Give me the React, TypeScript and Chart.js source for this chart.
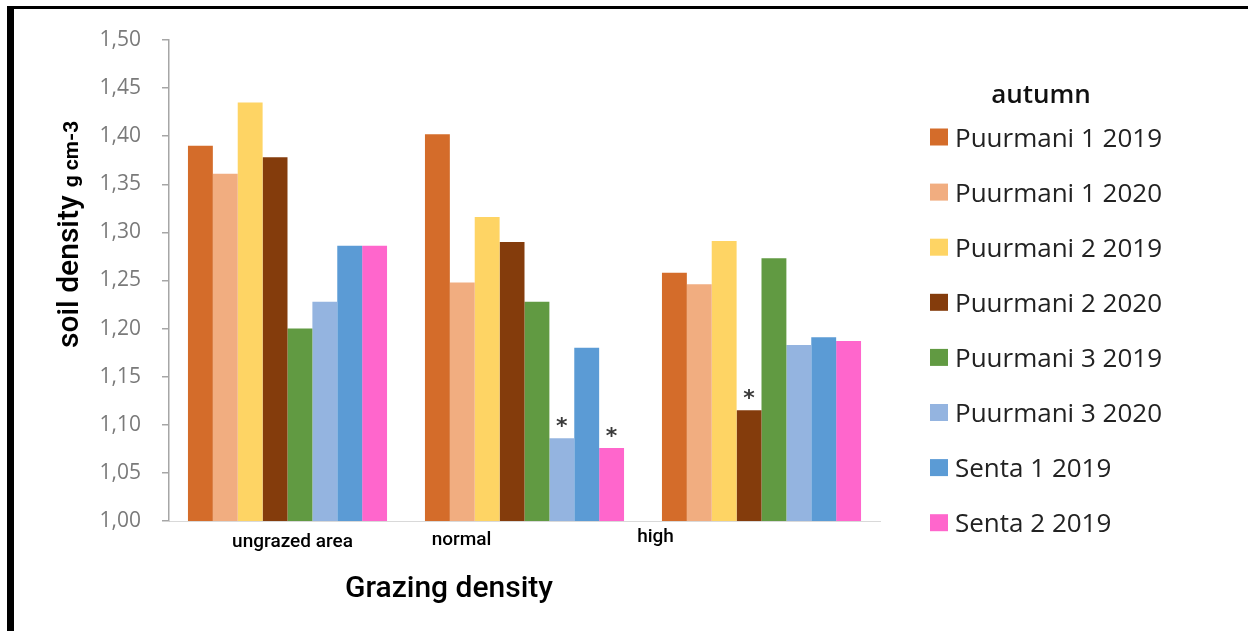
import { useEffect, useRef } from 'react';
import { Chart, registerables } from 'chart.js';

Chart.register(...registerables);

// ---------- data ----------
const categories = ['ungrazed area', 'normal', 'high'];
const seriesLabels = [
  'Puurmani 1 2019',
  'Puurmani 1 2020',
  'Puurmani 2 2019',
  'Puurmani 2 2020',
  'Puurmani 3 2019',
  'Puurmani 3 2020',
  'Senta 1 2019',
  'Senta 2 2019',
];
const puurmani1_2019 = [1.39, 1.402, 1.258];
const puurmani1_2020 = [1.361, 1.248, 1.246];
const puurmani2_2019 = [1.435, 1.316, 1.291];
const puurmani2_2020 = [1.378, 1.29, 1.115];
const puurmani3_2019 = [1.2, 1.228, 1.273];
const puurmani3_2020 = [1.228, 1.086, 1.183];
const senta1_2019 = [1.286, 1.18, 1.191];
const senta2_2019 = [1.286, 1.076, 1.187];
const seriesValues = [
  puurmani1_2019,
  puurmani1_2020,
  puurmani2_2019,
  puurmani2_2020,
  puurmani3_2019,
  puurmani3_2020,
  senta1_2019,
  senta2_2019,
];
const yTickValues = [1.0, 1.05, 1.1, 1.15, 1.2, 1.25, 1.3, 1.35, 1.4, 1.45, 1.5];
// significance marks: which series / category carries an asterisk
const starSeries = [5, 7, 3];
const starCategory = [1, 1, 2];

const legendTitle = 'autumn';
const yTitle = 'soil density';
const yUnit = 'g cm-3';
const xTitle = 'Grazing density';

// ---------- styles ----------
const seriesColors = [
  '#D46C2A',
  '#F1AD80',
  '#FED464',
  '#843C0C',
  '#619A42',
  '#94B4E0',
  '#5B9BD5',
  '#FF66CC',
];
const W = 1248;
const H = 631;
const xLabelShift = [5, -63, -106];
const xLabelBaseline = [547, 545, 542];

const overlayPlugin = {
  id: 'overlay',
  afterDraw(chart: any) {
    const ctx: CanvasRenderingContext2D = chart.ctx;
    ctx.save();

    // frame (top + left black edges)
    ctx.fillStyle = '#000';
    ctx.fillRect(7, 6, W - 7, 3);
    ctx.fillRect(7, 6, 7, H - 6);

    // y title (rotated, mixed fonts)
    ctx.save();
    ctx.translate(78, 348);
    ctx.rotate(-Math.PI / 2);
    ctx.fillStyle = '#000';
    ctx.textAlign = 'left';
    ctx.textBaseline = 'alphabetic';
    ctx.font = '500 30px Roboto';
    ctx.fillText(yTitle, 0, 0);
    const w = ctx.measureText(yTitle).width;
    ctx.font = 'bold 21px Roboto';
    ctx.fillText(yUnit, w + 8, 0);
    ctx.restore();

    // x category labels
    const xs = chart.scales.x;
    ctx.fillStyle = '#000';
    ctx.textAlign = 'center';
    ctx.textBaseline = 'alphabetic';
    ctx.font = '500 19px Roboto';
    categories.forEach((c, i) => {
      const px = xs.getPixelForValue(i) + xLabelShift[i];
      ctx.fillText(c, px, xLabelBaseline[i]);
    });

    // x title
    ctx.font = '500 30px Roboto';
    ctx.fillText(xTitle, 449, 597);

    // legend
    ctx.fillStyle = '#111';
    ctx.font = '600 26px "Open Sans"';
    ctx.textAlign = 'center';
    ctx.fillText(legendTitle, 1041, 103);
    ctx.textAlign = 'left';
    ctx.font = '26px "Open Sans"';
    chart.data.datasets.forEach((ds: any, i: number) => {
      const cy = 137 + i * 55.1;
      ctx.fillStyle = ds.backgroundColor;
      ctx.fillRect(930, cy - 8.5, 18, 17);
      ctx.fillStyle = '#222';
      ctx.fillText(ds.label, 955, cy + 9.5);
    });

    // asterisks
    ctx.fillStyle = '#3a3a3a';
    ctx.font = 'bold 22px "DejaVu Sans"';
    ctx.textAlign = 'center';
    const m = ctx.measureText('*');
    starSeries.forEach((s, k) => {
      const bar = chart.getDatasetMeta(s).data[starCategory[k]];
      if (!bar) return;
      const cy = bar.y - 16;
      ctx.fillText('*', bar.x, cy + (m.actualBoundingBoxAscent - m.actualBoundingBoxDescent) / 2);
    });

    ctx.restore();
  },
};

export default function App() {
  const ref = useRef<HTMLCanvasElement>(null);

  useEffect(() => {
    if (!ref.current) return;
    const chart = new Chart(ref.current, {
      type: 'bar',
      data: {
        labels: categories,
        datasets: seriesLabels.map((label, i) => ({
          label,
          data: seriesValues[i],
          backgroundColor: seriesColors[i],
          borderWidth: 0,
          barPercentage: 1,
          categoryPercentage: 0.84,
        })),
      },
      options: {
        responsive: false,
        animation: false,
        devicePixelRatio: 1,
        layout: { padding: { left: 0, right: W - 880, top: 40, bottom: 0 } },
        plugins: {
          legend: { display: false },
          tooltip: { enabled: false },
          title: { display: false },
        },
        scales: {
          x: {
            ticks: { display: false },
            grid: { display: false },
            border: { display: true, color: '#d9d9d9', width: 1 },
            afterFit: (s: any) => {
              s.height = 110;
            },
          },
          y: {
            min: 1.0,
            max: 1.5,
            afterBuildTicks: (s: any) => {
              s.ticks = yTickValues.map((v) => ({ value: v }));
            },
            afterFit: (s: any) => {
              s.width = 169;
            },
            ticks: {
              autoSkip: false,
              padding: 21,
              color: '#7a7a7a',
              font: { family: 'Open Sans', size: 21 },
              callback: (v: any) => Number(v).toFixed(2).replace('.', ','),
            },
            grid: {
              display: true,
              drawOnChartArea: false,
              drawTicks: true,
              tickLength: 7,
              color: '#a6a6a6',
              lineWidth: 1.5,
            },
            border: { display: true, color: '#a6a6a6', width: 1.5 },
          },
        },
      },
      plugins: [overlayPlugin],
    });
    return () => chart.destroy();
  }, []);

  return (
    <div
      style={{
        position: 'fixed',
        left: 0,
        top: 0,
        width: W,
        height: H,
        background: '#fff',
      }}
    >
      <canvas ref={ref} width={W} height={H} style={{ display: 'block', width: W, height: H }} />
    </div>
  );
}
